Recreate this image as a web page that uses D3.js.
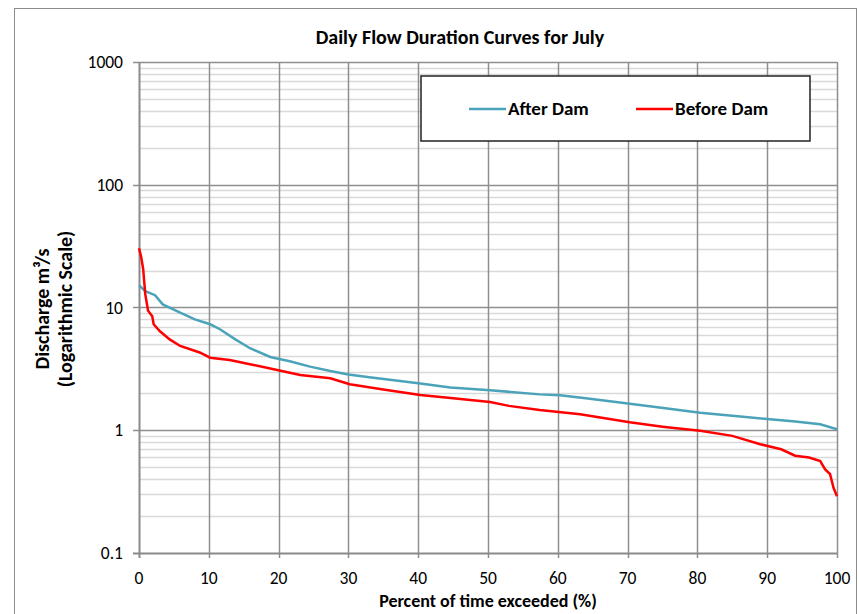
<!DOCTYPE html>
<html><head><meta charset="utf-8">
<script src="https://cdn.jsdelivr.net/npm/d3@7"></script>
<style>
body{margin:0;background:#fff;}
text{font-family:Carlito,"Open Sans","Liberation Sans",sans-serif;}
</style></head>
<body><svg id="c" width="859" height="614"></svg>
<script>
const afterPct = [0,0.9,2.3,3.4,5.9,8,10.2,11.6,13.8,15.9,18.8,21.6,24.5,27.4,30,33,37.4,40.3,44.6,50.3,57.4,60.3,64,68.9,74,80.4,85,90.4,94,97.6,100];
const afterVal = [15.2,13.6,12.6,10.6,9.1,8.0,7.3,6.65,5.5,4.66,3.95,3.65,3.3,3.04,2.85,2.7,2.52,2.4,2.23,2.12,1.96,1.93,1.82,1.68,1.55,1.39,1.31,1.23,1.18,1.12,1.02];
const beforePct = [0,0.3,0.6,0.9,1.3,1.9,2.1,3,4.4,5.9,8.7,10.2,13,15.9,18.8,23.1,27.4,30.2,35,40.3,45,50.3,53,57.4,63.2,70.3,75,80.4,85,89,92,94,96,97.6,98.3,99,99.5,100];
const beforeVal = [30.4,26,20.5,12.8,9.4,8.5,7.3,6.4,5.5,4.86,4.3,3.9,3.74,3.45,3.18,2.82,2.65,2.37,2.15,1.94,1.82,1.70,1.58,1.46,1.35,1.16,1.07,0.99,0.90,0.77,0.70,0.62,0.60,0.56,0.48,0.44,0.34,0.29];
const xTicks = [0,10,20,30,40,50,60,70,80,90,100];
const yTicks = [0.1,1,10,100,1000];
const yTickLabels = ["0.1","1","10","100","1000"];
const seriesNames = ["After Dam","Before Dam"];
const seriesColors = ["#4BA3B9","#FF0000"];

const svg = d3.select("#c");
const L=139, R=837, T=62, B=553;
const x = d3.scaleLinear().domain([0,100]).range([L,R]);
const y = d3.scaleLog().domain([0.1,1000]).range([B,T]);

// outer border
svg.append("rect").attr("x",14.5).attr("y",8.5).attr("width",842).attr("height",620)
  .attr("fill","none").attr("stroke","#8c8c8c").attr("stroke-width",1);

// minor horizontal gridlines
const minor=[];
for(let d=0.1; d<1000; d*=10){ for(let k=2;k<=9;k++) minor.push(+(d*k).toPrecision(3)); }
svg.append("g").selectAll("line").data(minor).join("line")
  .attr("x1",L).attr("x2",R).attr("y1",d=>Math.round(y(d))+0.5).attr("y2",d=>Math.round(y(d))+0.5)
  .attr("stroke","#d9d9d9").attr("stroke-width",1.5);
// major horizontal gridlines
svg.append("g").selectAll("line").data(yTicks.slice(1)).join("line")
  .attr("x1",L-6).attr("x2",R).attr("y1",d=>Math.round(y(d))+0.5).attr("y2",d=>Math.round(y(d))+0.5)
  .attr("stroke","#8f8f8f").attr("stroke-width",1.5);
// vertical gridlines
svg.append("g").selectAll("line").data(xTicks.slice(1)).join("line")
  .attr("x1",d=>Math.round(x(d))+0.5).attr("x2",d=>Math.round(x(d))+0.5).attr("y1",T).attr("y2",B+5)
  .attr("stroke","#8f8f8f").attr("stroke-width",1.5);
// axes
svg.append("line").attr("x1",L+0.5).attr("x2",L+0.5).attr("y1",T).attr("y2",B+5).attr("stroke","#8a8a8a").attr("stroke-width",2);
svg.append("line").attr("x1",L-6).attr("x2",R).attr("y1",B+0.5).attr("y2",B+0.5).attr("stroke","#8a8a8a").attr("stroke-width",2);

// tick labels
svg.append("g").selectAll("text").data(yTicks).join("text")
  .attr("x",L-16).attr("y",d=>y(d)+6).attr("text-anchor","end").attr("font-size",17.5).attr("fill","#000")
  .text((d,i)=>yTickLabels[i]);
svg.append("g").selectAll("text").data(xTicks).join("text")
  .attr("x",d=>x(d)).attr("y",B+31).attr("text-anchor","middle").attr("font-size",17.5).attr("fill","#000")
  .text(d=>d);

// lines
const line = d3.line().x(d=>x(d[0])).y(d=>y(d[1]));
const afterData = afterPct.map((p,i)=>[p,afterVal[i]]);
const beforeData = beforePct.map((p,i)=>[p,beforeVal[i]]);
svg.append("path").datum(afterData).attr("d",line).attr("fill","none").attr("stroke",seriesColors[0]).attr("stroke-width",2.5);
svg.append("path").datum(beforeData).attr("d",line).attr("fill","none").attr("stroke",seriesColors[1]).attr("stroke-width",2.5);

// legend
svg.append("rect").attr("x",421).attr("y",76).attr("width",389).attr("height",65)
  .attr("fill","#fff").attr("stroke","#222").attr("stroke-width",1.5);
const legX=[469,636];
seriesNames.forEach((n,i)=>{
  svg.append("line").attr("x1",legX[i]).attr("x2",legX[i]+37).attr("y1",109).attr("y2",109)
    .attr("stroke",seriesColors[i]).attr("stroke-width",2.5);
  svg.append("text").attr("x",legX[i]+39).attr("y",115).attr("font-size",19).attr("font-weight","bold").text(n);
});

// titles
svg.append("text").attr("x",460).attr("y",44).attr("text-anchor","middle").attr("font-size",20).attr("font-weight","bold")
  .text("Daily Flow Duration Curves for July");
svg.append("text").attr("x",488).attr("y",607).attr("text-anchor","middle").attr("font-size",18).attr("font-weight","bold")
  .text("Percent of time exceeded (%)");
const yt = svg.append("text").attr("transform","translate(0,309) rotate(-90)").attr("text-anchor","middle")
  .attr("font-size",20).attr("font-weight","bold");
yt.append("tspan").attr("x",0).attr("y",49).text("Discharge m³/s");
yt.append("tspan").attr("x",0).attr("y",72).text("(Logarithmic Scale)");
</script></body></html>
